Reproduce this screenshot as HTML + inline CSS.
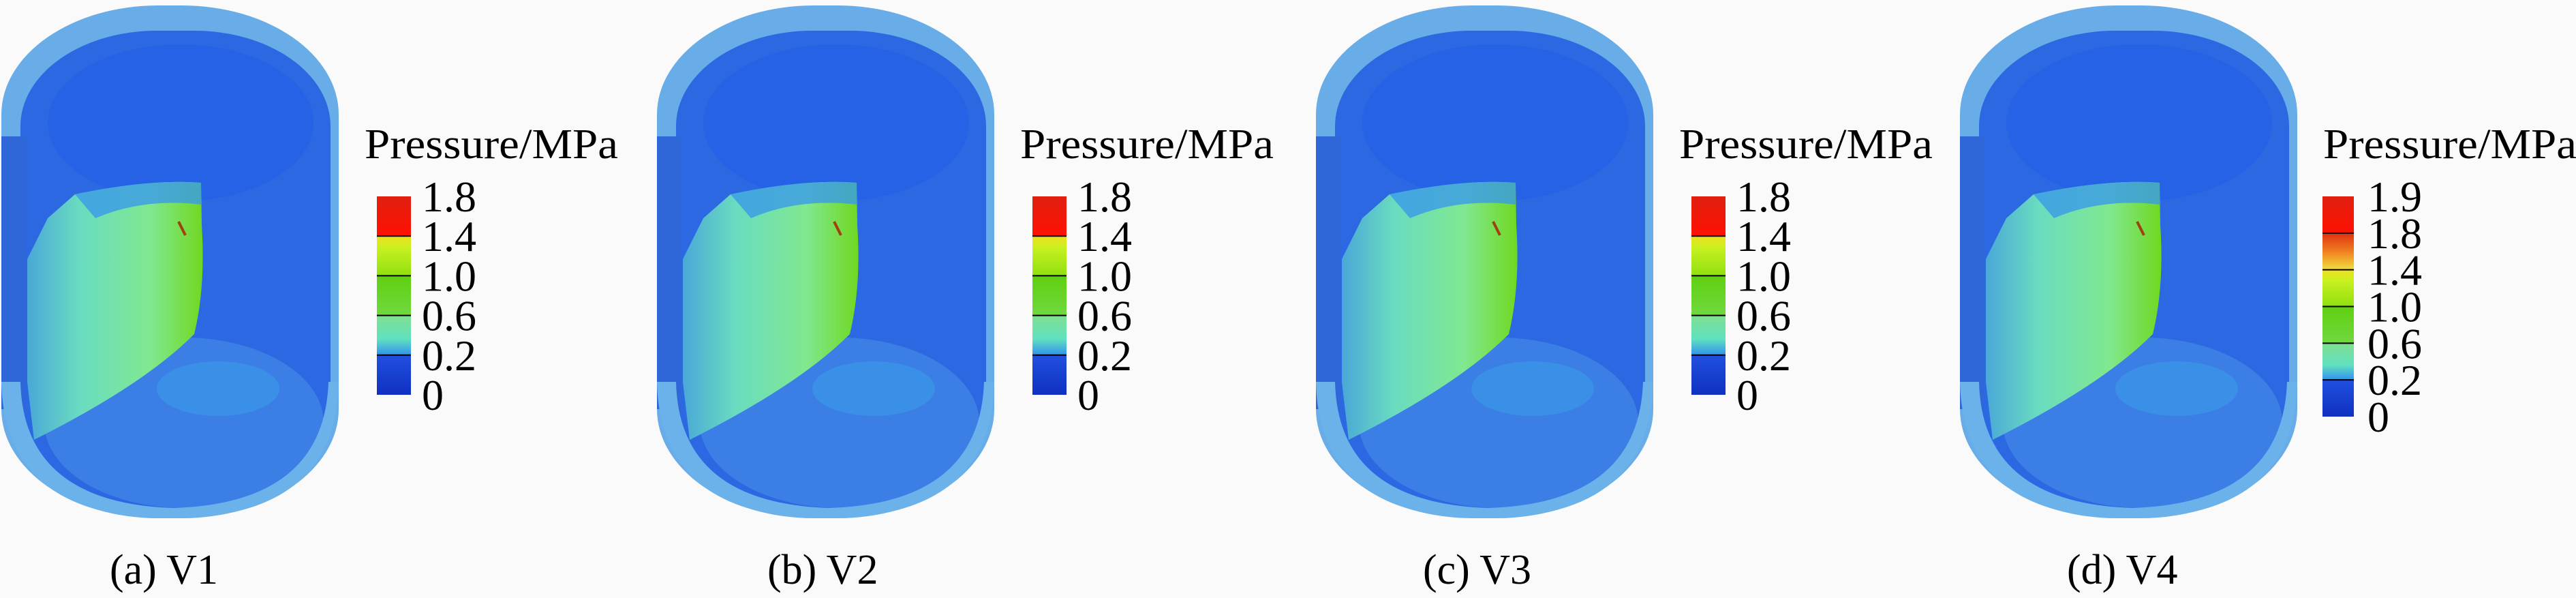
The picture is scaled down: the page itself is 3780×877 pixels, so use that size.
<!DOCTYPE html>
<html><head><meta charset="utf-8">
<style>
html,body{margin:0;padding:0;background:#fafafa;}
svg{display:block;}
svg text{font-family:"Liberation Serif","Times New Roman","DejaVu Serif",serif !important;}
</style></head>
<body>
<svg id="fig" width="3780" height="877" viewBox="0 0 3780 877">
<defs>
<linearGradient id="gGreen" x1="0" y1="0" x2="1" y2="0">
<stop offset="0" stop-color="#4aa8d8"/><stop offset="0.3" stop-color="#6adcc0"/><stop offset="0.7" stop-color="#80e890"/><stop offset="1" stop-color="#70d820"/>
</linearGradient>
<linearGradient id="gRed" x1="0" y1="0" x2="0" y2="1"><stop offset="0" stop-color="#e02010"/><stop offset="1" stop-color="#ff1000"/></linearGradient>
<linearGradient id="gYel" x1="0" y1="0" x2="0" y2="1"><stop offset="0" stop-color="#f0e020"/><stop offset="0.3" stop-color="#c8f020"/><stop offset="1" stop-color="#90e010"/></linearGradient>
<linearGradient id="gGrn" x1="0" y1="0" x2="0" y2="1"><stop offset="0" stop-color="#60d010"/><stop offset="1" stop-color="#70d840"/></linearGradient>
<linearGradient id="gCyan" x1="0" y1="0" x2="0" y2="1"><stop offset="0" stop-color="#80e090"/><stop offset="0.6" stop-color="#60e0c0"/><stop offset="1" stop-color="#3090f0"/></linearGradient>
<linearGradient id="gBlue" x1="0" y1="0" x2="0" y2="1"><stop offset="0" stop-color="#2050e0"/><stop offset="1" stop-color="#1030c0"/></linearGradient>
<linearGradient id="gOrg" x1="0" y1="0" x2="0" y2="1"><stop offset="0" stop-color="#e03010"/><stop offset="0.5" stop-color="#f08020"/><stop offset="1" stop-color="#f0e040"/></linearGradient>
</defs>
</svg>
<script>
const panelOffsets = [0, 962, 1929, 2874];
const captions = ["(a) V1", "(b) V2", "(c) V3", "(d) V4"];
const ticksABC = ["1.8", "1.4", "1.0", "0.6", "0.2", "0"];
const ticksD = ["1.9", "1.8", "1.4", "1.0", "0.6", "0.2", "0"];
const fillsABC = ["url(#gRed)", "url(#gYel)", "url(#gGrn)", "url(#gCyan)", "url(#gBlue)"];
const fillsD = ["url(#gRed)", "url(#gOrg)", "url(#gYel)", "url(#gGrn)", "url(#gCyan)", "url(#gBlue)"];

const NS = "http://www.w3.org/2000/svg";
const FONT = "Liberation Serif, Times New Roman, DejaVu Serif, serif";
const svg = document.getElementById("fig");
function mk(tag, attrs, parent) {
  const e = document.createElementNS(NS, tag);
  for (const k in attrs) e.setAttribute(k, attrs[k]);
  parent.appendChild(e);
  return e;
}

panelOffsets.forEach((ox, i) => {
  const g = mk("g", {transform: "translate(" + ox + ",0)"}, svg);
  
  

  const vessel = mk("g", {}, g);
  
  
  mk("rect", {x: 2, y: 8, width: 495, height: 752, rx: 230, ry: 160, fill: "#68ace8"}, vessel);
  mk("rect", {x: 30, y: 45, width: 455, height: 700, rx: 200, ry: 140, fill: "#2c68e2"}, vessel);
  mk("ellipse", {cx: 265, cy: 180, rx: 195, ry: 115, fill: "#2460e6", opacity: 0.8}, vessel);
  mk("rect", {x: 2, y: 200, width: 36, height: 400, fill: "#2f66d8"}, vessel);
  mk("ellipse", {cx: 270, cy: 620, rx: 205, ry: 125, fill: "#3a7ee6"}, vessel);
  mk("ellipse", {cx: 320, cy: 570, rx: 90, ry: 40, fill: "#3a9ce6", opacity: 0.6}, vessel);
  mk("path", {d: "M2 560 Q6 760 250 760 Q494 760 497 560 L482 560 Q476 738 255 745 Q34 738 30 560 Z", fill: "#6cb2ea"}, vessel);
  mk("path", {d: "M110 285 Q220 262 295 268 L296 330 Q302 420 285 490 Q210 565 50 645 L40 560 L40 380 L70 320 Z", fill: "url(#gGreen)"}, vessel);
  mk("path", {d: "M110 285 Q220 262 295 268 L295 300 Q210 290 140 320 Z", fill: "#3a9ae8", opacity: 0.8}, vessel);
  mk("line", {x1: 262, y1: 325, x2: 272, y2: 345, stroke: "#a04010", "stroke-width": 4}, vessel);

  const leg = mk("g", {}, g);
  
  
  const title = mk("text", {x: 535, y: 232, "font-size": 62, textLength: 372, lengthAdjust: "spacingAndGlyphs"}, leg);
  title.style.fontFamily = FONT;
  title.textContent = "Pressure/MPa";
  
  

  const ticks = i === 3 ? ticksD : ticksABC;
  const fills = i === 3 ? fillsD : fillsABC;
  const top = 288, bot = i === 3 ? 611 : 579;
  const bx = i === 3 ? 534 : 553, bw = i === 3 ? 46 : 50;
  const step = (bot - top) / (ticks.length - 1);
  fills.forEach((f, k) => {
    const r = mk("rect", {x: bx, y: top + k * step, width: bw, height: step, fill: f}, leg);
    
    
    if (k > 0) mk("line", {x1: bx, y1: top + k * step, x2: bx + bw, y2: top + k * step, stroke: "#000", "stroke-width": 2}, leg);
  });
  ticks.forEach((t, k) => {
    const tx = mk("text", {x: bx + 66, y: top + k * step + 22, "font-size": 64}, leg);
    tx.style.fontFamily = FONT;
    tx.textContent = t;
    
    
  });

  const cap = mk("text", {x: [161, 164, 159, 159][i], y: 856, "font-size": 62}, g);
  cap.style.fontFamily = FONT;
  cap.textContent = captions[i];
  
  
});
</script>
</body></html>
